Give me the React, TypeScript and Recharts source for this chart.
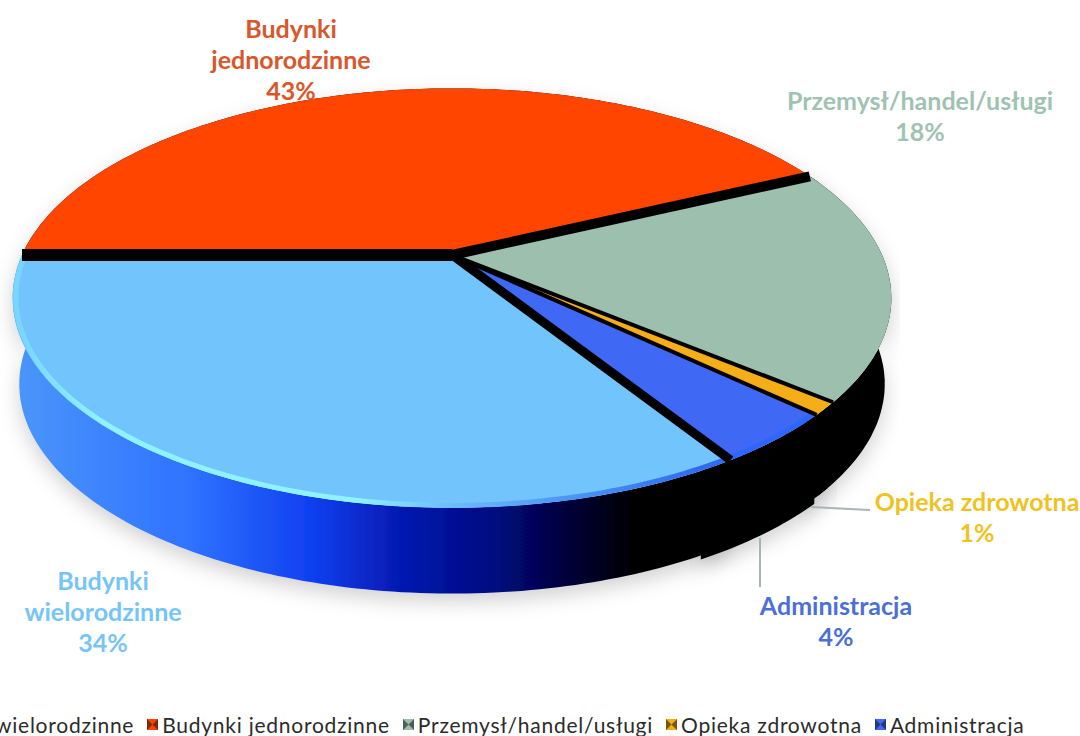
import { PieChart, Pie, Legend } from "recharts";

const names = [
  "Budynki wielorodzinne",
  "Budynki jednorodzinne",
  "Przemysł/handel/usługi",
  "Opieka zdrowotna",
  "Administracja",
];
const values = [34, 43, 18, 1, 4];
const faceColors = ["#72c4fd", "#ff4500", "#9cbfae", "#f5ad18", "#3f68f5"];
const wallColors = ["url(#wallBlue)", "#000", "#000", "#000", "#000"];
const labelColors = ["#76c5f8", "#d9572a", "#9fc3b2", "#efc21f", "#4a70d8"];
const labelLines = [
  ["Budynki", "wielorodzinne"],
  ["Budynki", "jednorodzinne"],
  ["Przemysł/handel/usługi"],
  ["Opieka zdrowotna"],
  ["Administracja"],
];

// label anchors, first baseline
const labelPos = [
  { x: 103, y: 590 },
  { x: 291, y: 38 },
  { x: 920, y: 110 },
  { x: 977, y: 511 },
  { x: 836, y: 615 },
];
const gapWidths = [9, 12, 10, 4, 4];
const wallOverlap = [0, 2, 2, 2, 4];

const CX = 452;
const CY = 255;
const RADIUS = 430;
const SQUASH = 0.467;
const PERSP = 0.205;
const DEPTH = 86;

const rows = names.map((name, i) => ({ name, value: values[i], fill: faceColors[i] }));

function project(cx: number, cy: number, r: number, deg: number, rf = 1) {
  const a = (deg * Math.PI) / 180;
  const u = Math.cos(a) * rf;
  const v = -Math.sin(a) * rf;
  const w = 1 - PERSP * v;
  return { x: cx + (r * u) / w, y: cy + (r * SQUASH * v) / w };
}

function arcPoints(cx: number, cy: number, r: number, from: number, to: number, rf = 1) {
  const steps = Math.max(2, Math.ceil(Math.abs(to - from)));
  const pts = [];
  for (let i = 0; i <= steps; i++) {
    pts.push(project(cx, cy, r, from + ((to - from) * i) / steps, rf));
  }
  return pts;
}

const toPath = (pts: { x: number; y: number }[]) =>
  pts.map((p, i) => `${i ? "L" : "M"}${p.x.toFixed(1)},${p.y.toFixed(1)}`).join(" ");

function WallShape(props: any) {
  const { cx, cy, outerRadius, startAngle, endAngle, index } = props;
  // black walls overlap the next one a little so no seam shows
  const top = arcPoints(cx, cy, outerRadius, startAngle, endAngle - wallOverlap[index]);
  const shift = index === 4 ? 3 : 0;
  const bottom = top
    .map((p) => ({ x: cx + (p.x - cx) * 0.985 + shift, y: p.y + DEPTH + shift }))
    .reverse();
  return (
    <path
      d={`${toPath(top)} L${toPath(bottom).slice(1)} Z`}
      fill={wallColors[index]}
      filter="url(#softShadow)"
    />
  );
}

function FaceShape(props: any) {
  const { cx, cy, outerRadius, startAngle, endAngle, index, fill } = props;
  const rim = arcPoints(cx, cy, outerRadius, startAngle, endAngle);
  return (
    <g>
      <path d={`M${cx},${cy} L${toPath(rim).slice(1)} Z`} fill={fill} />
      {index === 0 && (
        <path
          d={toPath(arcPoints(cx, cy, outerRadius, startAngle, endAngle, 0.993))}
          fill="none"
          stroke="url(#rimBlue)"
          strokeWidth={5}
        />
      )}
      {index === 4 && (
        <path
          d={toPath(arcPoints(cx, cy, outerRadius, startAngle, endAngle, 0.993))}
          fill="none"
          stroke="#2d66ff"
          strokeWidth={5}
        />
      )}
    </g>
  );
}

function GapShape(props: any) {
  const { cx, cy, outerRadius, startAngle, index } = props;
  const edge = project(cx, cy, outerRadius, startAngle);
  return <line x1={cx} y1={cy} x2={edge.x} y2={edge.y} stroke="#000" strokeWidth={gapWidths[index]} />;
}

function renderLabel(props: any) {
  const { index, value } = props;
  const pos = labelPos[index];
  const lines = [...labelLines[index], `${value}%`];
  return (
    <g key={index}>
      <text
        x={pos.x}
        y={pos.y}
        textAnchor="middle"
        fill={labelColors[index]}
        fontFamily="Lato, sans-serif"
        fontWeight={700}
        fontSize={25}
      >
        {lines.map((t, i) => (
          <tspan key={i} x={pos.x} dy={i ? 31 : 0}>
            {t}
          </tspan>
        ))}
      </text>
      {index === 3 && <polyline points="811,507 870,510" fill="none" stroke="#a9b5b5" strokeWidth={2} />}
      {index === 4 && <polyline points="760,538 760,587" fill="none" stroke="#a9b5b5" strokeWidth={2} />}
    </g>
  );
}

function LegendRow(props: any) {
  const seen = new Set<string>();
  const items = (props.payload ?? []).filter((it: any) => {
    if (seen.has(it.value)) return false;
    seen.add(it.value);
    return true;
  });
  items.sort((a: any, b: any) => names.indexOf(a.value) - names.indexOf(b.value));
  return (
    <div
      style={{
        display: "flex",
        whiteSpace: "nowrap",
        fontFamily: "Lato, sans-serif",
        fontSize: 21,
        color: "#2b2b2b",
        letterSpacing: 0.75,
      }}
    >
      {items.map((it: any) => (
        <span key={it.value} style={{ display: "flex", alignItems: "center", marginRight: 13 }}>
          <svg width={11} height={11} style={{ marginRight: 4 }}>
            <rect width={11} height={11} fill={faceColors[names.indexOf(it.value)]} />
            <path d="M0,0 L5.5,5.5 L0,11 Z M11,0 L5.5,5.5 L11,11 Z" fill="#111" fillOpacity={0.55} />
          </svg>
          {it.value}
        </span>
      ))}
    </div>
  );
}

export default function App() {
  const start = 302.4;
  const end = start - 360;
  return (
    <div style={{ position: "absolute", left: 0, top: 0, width: 1080, height: 736, overflow: "hidden", background: "#fff" }}>
      <PieChart width={1080} height={736} margin={{ top: 0, right: 0, bottom: 0, left: 0 }}>
        <defs>
          <linearGradient id="wallBlue" gradientUnits="userSpaceOnUse" x1="15" y1="0" x2="720" y2="0">
            <stop offset="0" stopColor="#4a96fa" />
            <stop offset="0.25" stopColor="#2f72ff" />
            <stop offset="0.42" stopColor="#1040f0" />
            <stop offset="0.55" stopColor="#0518b0" />
            <stop offset="0.68" stopColor="#000a80" />
            <stop offset="0.8" stopColor="#000030" />
            <stop offset="0.88" stopColor="#000" />
          </linearGradient>
          <linearGradient id="rimBlue" gradientUnits="userSpaceOnUse" x1="20" y1="0" x2="700" y2="0">
            <stop offset="0" stopColor="#78d6ff" />
            <stop offset="0.12" stopColor="#8ef2ff" />
            <stop offset="0.5" stopColor="#8ef2ff" />
            <stop offset="0.62" stopColor="#6fc0fd" />
            <stop offset="0.8" stopColor="#4c97f5" />
            <stop offset="1" stopColor="#2f6bf0" />
          </linearGradient>
          <filter id="softShadow" x="-10%" y="-10%" width="120%" height="130%">
            <feDropShadow dx="0" dy="8" stdDeviation="10" floodColor="#000" floodOpacity="0.18" />
          </filter>
        </defs>
        <Pie
          data={rows}
          dataKey="value"
          nameKey="name"
          cx={CX}
          cy={CY}
          outerRadius={RADIUS}
          startAngle={start}
          endAngle={end}
          legendType="none"
          shape={WallShape}
          isAnimationActive={false}
          stroke="none"
        />
        <Pie
          data={rows}
          dataKey="value"
          nameKey="name"
          cx={CX}
          cy={CY}
          outerRadius={RADIUS}
          startAngle={start}
          endAngle={end}
          shape={FaceShape}
          isAnimationActive={false}
          stroke="none"
        />
        <Pie
          data={rows}
          dataKey="value"
          nameKey="name"
          cx={CX}
          cy={CY}
          outerRadius={RADIUS}
          startAngle={start}
          endAngle={end}
          legendType="none"
          shape={GapShape}
          label={renderLabel}
          labelLine={false}
          isAnimationActive={false}
          stroke="none"
        />
        <Legend
          content={<LegendRow />}
          wrapperStyle={{ position: "absolute", left: -106, top: 712, width: 1400, bottom: "auto" }}
        />
      </PieChart>
    </div>
  );
}
